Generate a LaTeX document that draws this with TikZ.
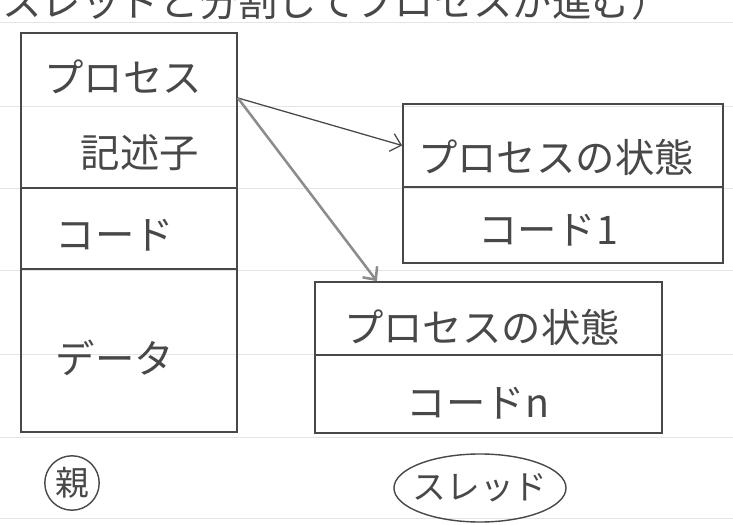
\documentclass[tikz,border=0pt]{standalone}
\usepackage{fontspec}
\newfontfamily\jp{Noto Sans CJK JP}
\usetikzlibrary{calc,arrows.meta}
\definecolor{pencil}{RGB}{72,72,72}
\definecolor{ruled}{RGB}{226,229,232}
\tikzset{
	cell/.style={draw=pencil, line width=1.2pt, rectangle, inner sep=0pt},
	hand/.style={font=\jp\fontsize{28}{32}\selectfont, text=pencil, inner sep=0pt},
	handsmall/.style={hand, font=\jp\fontsize{24}{28}\selectfont},
	barb/.style={-{Straight Barb[length=7pt,width=13pt]}},
}

\begin{document}
\begin{tikzpicture}[x=0.025cm, y=-0.025cm]
			%%%%% START %%%%%
			\useasboundingbox (0,0) rectangle (733,525);
			\fill[white] (0,0) rectangle (733,525);
			\foreach \y in {22,106,188,270,354,437,518}
				\draw[ruled, line width=0.5pt] (0,\y) -- (733,\y);
			
			% cut-off line at the top
			\begin{scope}
				\clip (0,0) rectangle (733,525);
				\node[hand, anchor=base west] (memo) at (2,17) {スレッドと分割してプロセスが進む）};
			\end{scope}
			
			% parent process
			\node[cell, minimum width=5.4cm, minimum height=3.875cm] (pcb) at (129,110.5) {};
			\node[cell, minimum width=5.4cm, minimum height=2.025cm] (code) at (129,228.5) {};
			\node[cell, minimum width=5.4cm, minimum height=4.075cm] (data) at (129,350.5) {};
			\node[hand] (pcbA) at (123,77) {プロセス};
			\node[hand] (pcbB) at (140,153) {記述子};
			\node[hand] (codeT) at (115,235) {コード};
			\node[hand] (dataT) at (115,358) {データ};
			
			\node[handsmall] (oya) at (72,483) {親};
			\draw[pencil, line width=1pt] (oya.center) circle (0.68cm);
			
			% threads
			\node[cell, minimum width=8cm, minimum height=2.075cm] (st1) at (563,145.5) {};
			\node[cell, minimum width=8cm, minimum height=1.9cm] (cd1) at (563,225) {};
			\node[hand] (st1T) at (556,157) {プロセスの状態};
			\node[hand] (cd1T) at (548,230) {コード1};
			
			\node[cell, minimum width=8.675cm, minimum height=1.825cm] (st2) at (488.5,318.5) {};
			\node[cell, minimum width=8.675cm, minimum height=1.95cm] (cdn) at (488.5,394) {};
			\node[hand] (st2T) at (482,327) {プロセスの状態};
			\node[hand] (cdnT) at (478,403) {コードn};
			
			\node[handsmall] (thr) at (480,488) {スレッド};
			\draw[pencil, line width=1pt] (thr.center) ellipse [x radius=2.15cm, y radius=0.85cm];
			
			% arrows
			\coordinate (fork) at ($(pcb.north east)!0.42!(pcb.south east)$);
			\coordinate (tip2) at ($(st2.north west)!0.18!(st2.north east)$);
			\draw[pencil, line width=0.9pt, barb] (fork) -- (st1.west);
			\draw[black!45, line width=1.8pt, barb] (fork) -- (tip2);
			%%%%% END %%%%%
\end{tikzpicture}
\end{document}
